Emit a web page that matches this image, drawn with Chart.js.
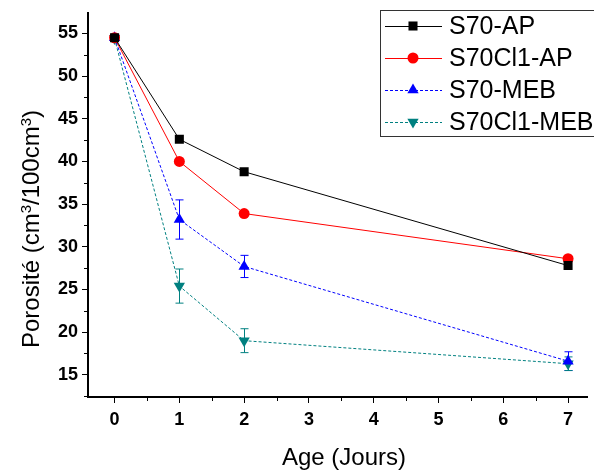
<!DOCTYPE html>
<html>
<head>
<meta charset="utf-8">
<script src="https://cdn.jsdelivr.net/npm/chart.js@4/dist/chart.umd.min.js"></script>
<style>
  html, body { margin: 0; padding: 0; background: #fff; overflow: hidden; }
  canvas { display: block; }
</style>
</head>
<body>
<canvas id="porosite" width="594" height="474"></canvas>
<script>
const ages = [0, 1, 2, 7];
const s70ap = [54.5, 42.6, 38.8, 27.8];
const s70cl1ap = [54.5, 40.0, 33.9, 28.6];
const s70meb = [54.5, 33.2, 27.7, 16.6];
const s70mebErr = [0.3, 2.3, 1.3, 1.1];
const s70cl1meb = [54.4, 25.4, 19.0, 16.3];
const s70cl1mebErr = [0, 2.0, 1.4, 0.8];
const xTicks = [0, 1, 2, 3, 4, 5, 6, 7];
const yTicks = [15, 20, 25, 30, 35, 40, 45, 50, 55];

const FONT = '"Liberation Sans", Arial, sans-serif';

function pts(ys) {
  return ages.map((a, i) => ({ x: a, y: ys[i] }));
}

const datasets = [
  { label: 'S70-AP', data: pts(s70ap), borderColor: '#000', backgroundColor: '#000',
    pointStyle: 'rect', pointRadius: 6.4, borderDash: [] },
  { label: 'S70Cl1-AP', data: pts(s70cl1ap), borderColor: '#ff0000', backgroundColor: '#ff0000',
    pointStyle: 'circle', pointRadius: 5.5, borderDash: [] },
  { label: 'S70-MEB', data: pts(s70meb), borderColor: '#0000ff', backgroundColor: '#0000ff',
    pointStyle: 'triangle', pointRadius: 6.5, borderDash: [3, 2], errors: s70mebErr },
  { label: 'S70Cl1-MEB', data: pts(s70cl1meb), borderColor: '#008080', backgroundColor: '#008080',
    pointStyle: 'triangle', pointRotation: 180, pointRadius: 6.5, borderDash: [3, 2], errors: s70cl1mebErr }
];
datasets.forEach(d => { d.borderWidth = 1; d.pointBorderWidth = 0; d.tension = 0; });

// error bars, drawn before the points
const errorBars = {
  id: 'errorBars',
  beforeDatasetsDraw(chart) {
    const ctx = chart.ctx, x = chart.scales.x, y = chart.scales.y;
    chart.data.datasets.forEach(ds => {
      if (!ds.errors) return;
      ctx.save();
      ctx.strokeStyle = ds.borderColor;
      ctx.lineWidth = 1;
      ds.data.forEach((p, i) => {
        const e = ds.errors[i];
        if (!e) return;
        const px = Math.round(x.getPixelForValue(p.x)) + 0.5;
        const top = y.getPixelForValue(p.y + e), bot = y.getPixelForValue(p.y - e);
        ctx.beginPath();
        ctx.moveTo(px, top); ctx.lineTo(px, bot);
        ctx.moveTo(px - 4, top); ctx.lineTo(px + 4, top);
        ctx.moveTo(px - 4, bot); ctx.lineTo(px + 4, bot);
        ctx.stroke();
      });
      ctx.restore();
    });
  }
};

// minor ticks, axis titles, legend box
const extras = {
  id: 'extras',
  afterDraw(chart) {
    const ctx = chart.ctx, x = chart.scales.x, y = chart.scales.y;
    const area = chart.chartArea;
    ctx.save();
    ctx.strokeStyle = '#000';
    ctx.lineWidth = 1;
    ctx.beginPath();
    for (let v = -0.5; v <= 7.5; v += 1) {
      if (v < x.min || v > x.max) continue;
      const px = Math.round(x.getPixelForValue(v)) + 0.5;
      ctx.moveTo(px, area.bottom); ctx.lineTo(px, area.bottom + 4);
    }
    for (let v = 12.5; v <= 57.5; v += 5) {
      if (v < y.min || v > y.max) continue;
      const py = Math.round(y.getPixelForValue(v)) + 0.5;
      ctx.moveTo(area.left, py); ctx.lineTo(area.left - 4, py);
    }
    ctx.stroke();

    // x title
    ctx.fillStyle = '#000';
    ctx.font = '24px ' + FONT;
    ctx.textAlign = 'center';
    ctx.textBaseline = 'middle';
    ctx.fillText('Age (Jours)', 344, 458);

    // y title with superscripts
    const parts = [['Porosité (cm', 0], ['3', 1], ['/100cm', 0], ['3', 1], [')', 0]];
    const bigF = '24px ' + FONT, smallF = '15px ' + FONT;
    let total = 0;
    parts.forEach(p => { ctx.font = p[1] ? smallF : bigF; total += ctx.measureText(p[0]).width; });
    ctx.translate(31, 229);
    ctx.rotate(-Math.PI / 2);
    ctx.textAlign = 'left';
    ctx.textBaseline = 'alphabetic';
    let cx = -total / 2;
    parts.forEach(p => {
      ctx.font = p[1] ? smallF : bigF;
      ctx.fillText(p[0], cx, p[1] ? 0 : 8);
      cx += ctx.measureText(p[0]).width;
    });
    ctx.setTransform(1, 0, 0, 1, 0, 0);

    // legend
    ctx.strokeStyle = '#333';
    ctx.lineWidth = 1;
    ctx.strokeRect(380.5, 10.5, 230, 126);
    ctx.font = '25px ' + FONT;
    ctx.textAlign = 'left';
    ctx.textBaseline = 'middle';
    chart.data.datasets.forEach((ds, i) => {
      const ry = 26 + i * 32;
      ctx.strokeStyle = ds.borderColor;
      ctx.setLineDash(ds.borderDash);
      ctx.beginPath();
      ctx.moveTo(385, ry + 0.5); ctx.lineTo(442, ry + 0.5);
      ctx.stroke();
      ctx.setLineDash([]);
      ctx.fillStyle = ds.backgroundColor;
      Chart.helpers.drawPoint(ctx, {
        pointStyle: ds.pointStyle, radius: ds.pointRadius,
        rotation: ds.pointRotation || 0, borderWidth: 0
      }, 413, ry);
      ctx.fillStyle = '#000';
      ctx.fillText(ds.label, 449, ry + 1);
    });
    ctx.restore();
  }
};

new Chart(document.getElementById('porosite'), {
  type: 'line',
  data: { datasets },
  plugins: [errorBars, extras],
  options: {
    responsive: false,
    animation: false,
    layout: { padding: { top: 13, right: 0, left: 0, bottom: 0 } },
    plugins: { legend: { display: false }, tooltip: { enabled: false } },
    scales: {
      x: {
        type: 'linear', min: -0.41, max: 7.3,
        afterBuildTicks: s => { s.ticks = xTicks.map(v => ({ value: v })); },
        afterFit: s => { s.height = 77; s.paddingLeft = 0; s.paddingRight = 0; },
        ticks: { color: '#000', padding: 6, font: { family: FONT, size: 18, weight: 'bold' } },
        grid: { drawOnChartArea: false, tickLength: 6, tickColor: '#000', tickWidth: 1 },
        border: { color: '#000', width: 2 }
      },
      y: {
        type: 'linear', min: 12.4, max: 57.4,
        afterBuildTicks: s => { s.ticks = yTicks.map(v => ({ value: v })); },
        afterFit: s => { s.width = 88; s.paddingTop = 0; s.paddingBottom = 0; },
        ticks: { color: '#000', padding: 4, font: { family: FONT, size: 18, weight: 'bold' } },
        grid: { drawOnChartArea: false, tickLength: 6, tickColor: '#000', tickWidth: 1 },
        border: { color: '#000', width: 2 }
      }
    }
  }
});
</script>
</body>
</html>
